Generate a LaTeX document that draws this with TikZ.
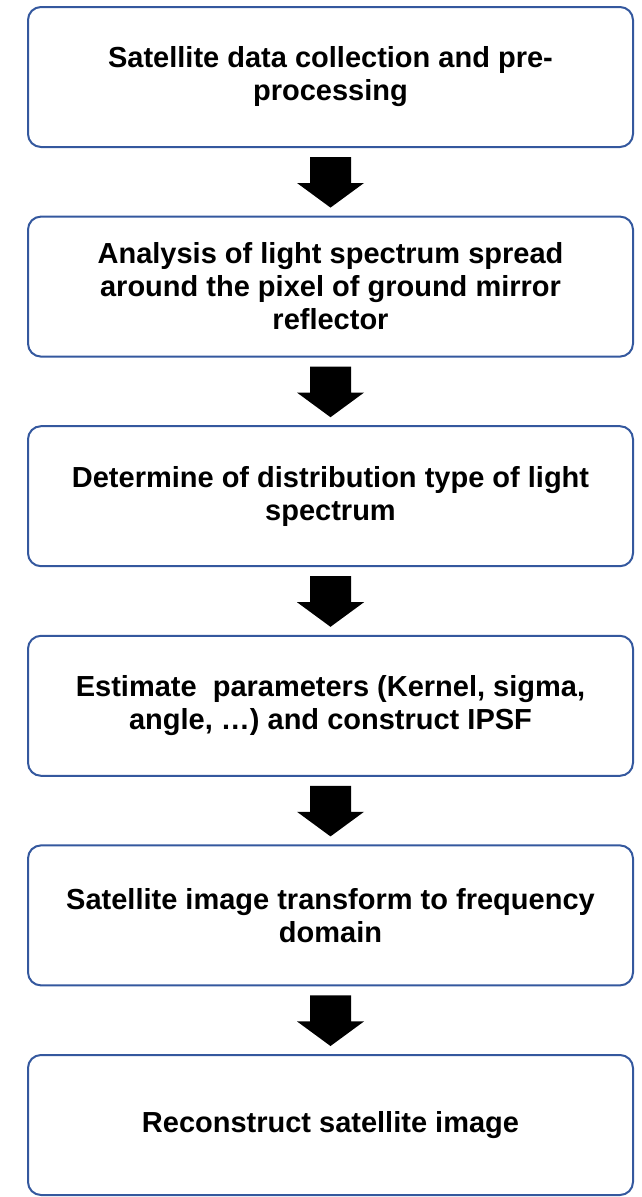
\documentclass[tikz,border=0pt]{standalone}
\usepackage{fontspec}
\setmainfont{Liberation Sans}
\usetikzlibrary{calc}
\definecolor{boxblue}{RGB}{52,88,158}
\tikzset{
  stepbox/.style={draw=boxblue, line width=2pt, rounded corners=13pt, rectangle,
    minimum width=605pt, minimum height=140pt, outer sep=0pt, inner sep=0pt,
    align=center, font=\fontsize{29}{33}\selectfont\bfseries},
  blockarrow/.style={fill=black, draw=none}
}
\begin{document}
\begin{tikzpicture}[x=1pt,y=-1pt]
\useasboundingbox (0,0) rectangle (641,1197);
\node[stepbox] (b1) at (330.5,77) {Satellite data collection and pre-\\processing};
\node[stepbox] (b2) at (330.5,286.6) {Analysis of light spectrum spread\\around the pixel of ground mirror\\reflector};
\node[stepbox] (b3) at (330.5,496.2) {Determine of distribution type of light\\spectrum};
\node[stepbox] (b4) at (330.5,705.8) {Estimate\ \ parameters (Kernel, sigma,\\angle, …) and construct IPSF};
\node[stepbox] (b5) at (330.5,915.4) {Satellite image transform to frequency\\domain};
\node[stepbox] (b6) at (330.5,1125) {Reconstruct satellite image};
\foreach \a/\b in {b1/b2,b2/b3,b3/b4,b4/b5,b5/b6}{
  \fill[blockarrow] ($(\a.south)+(-20.5,10)$) -- ($(\a.south)+(20.5,10)$)
    -- ($(\a.south)+(20.5,36)$) -- ($(\a.south)+(33.5,36)$)
    -- ($(\b.north)+(0,-9)$)
    -- ($(\a.south)+(-33.5,36)$) -- ($(\a.south)+(-20.5,36)$) -- cycle;
}
\end{tikzpicture}
\end{document}
